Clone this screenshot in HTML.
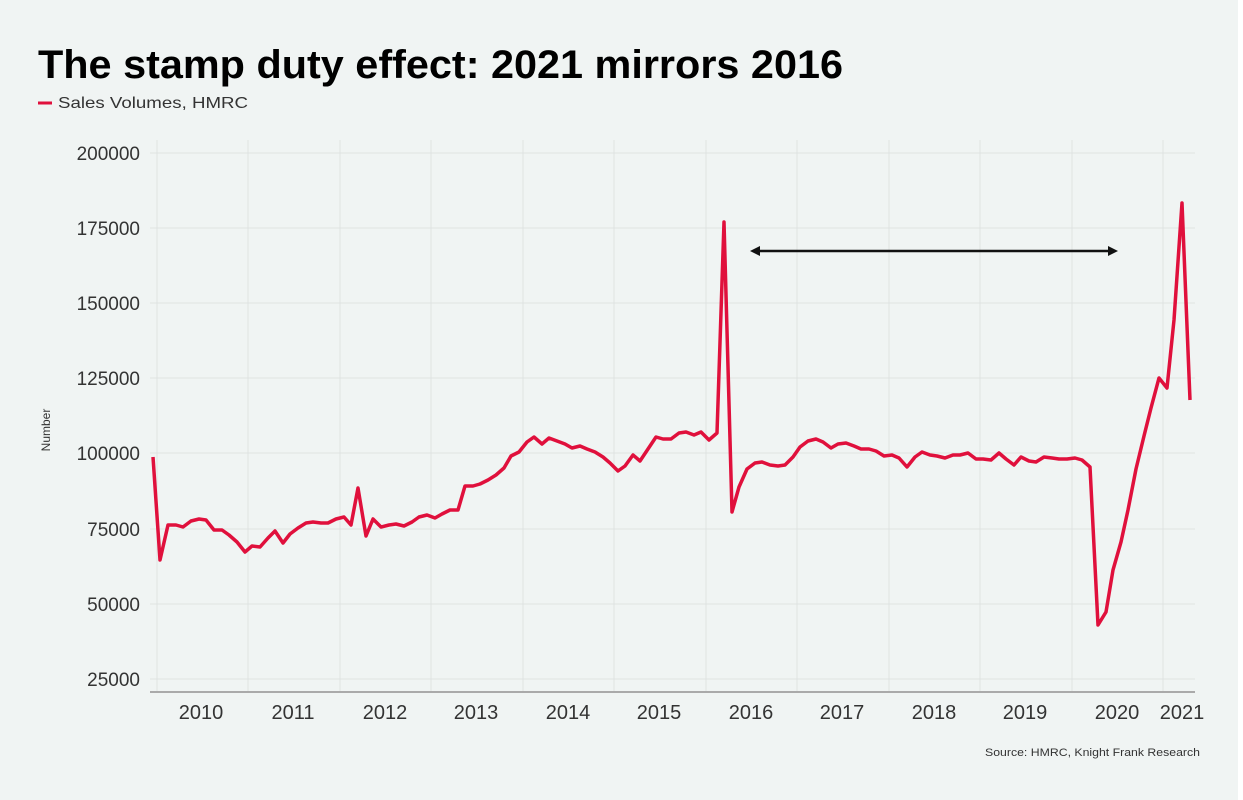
<!DOCTYPE html>
<html><head><meta charset="utf-8"><style>
body{margin:0;background:#fff}
svg{display:block;font-family:"Liberation Sans",sans-serif}
</style></head><body>
<svg width="1243" height="800" viewBox="0 0 1243 800">
<rect x="0" y="0" width="1238" height="800" fill="#f0f4f3"/>
<rect x="1238" y="0" width="5" height="800" fill="#fff"/>
<text x="38" y="78" font-size="40" font-weight="bold" fill="#000" textLength="805" lengthAdjust="spacingAndGlyphs">The stamp duty effect: 2021 mirrors 2016</text>
<line x1="38" y1="103" x2="52" y2="103" stroke="#e0103c" stroke-width="3"/>
<text x="58" y="108" font-size="16" fill="#333" textLength="190" lengthAdjust="spacingAndGlyphs">Sales Volumes, HMRC</text>
<g stroke="#dfe3e2" stroke-width="1">
<line x1="150" y1="153" x2="1195" y2="153"/><line x1="150" y1="228" x2="1195" y2="228"/>
<line x1="150" y1="303" x2="1195" y2="303"/><line x1="150" y1="378" x2="1195" y2="378"/>
<line x1="150" y1="453" x2="1195" y2="453"/><line x1="150" y1="529" x2="1195" y2="529"/>
<line x1="150" y1="604" x2="1195" y2="604"/><line x1="150" y1="679" x2="1195" y2="679"/>
<line x1="157" y1="140" x2="157" y2="692"/><line x1="248" y1="140" x2="248" y2="692"/>
<line x1="340" y1="140" x2="340" y2="692"/><line x1="431" y1="140" x2="431" y2="692"/>
<line x1="523" y1="140" x2="523" y2="692"/><line x1="614" y1="140" x2="614" y2="692"/>
<line x1="706" y1="140" x2="706" y2="692"/><line x1="797" y1="140" x2="797" y2="692"/>
<line x1="889" y1="140" x2="889" y2="692"/><line x1="980" y1="140" x2="980" y2="692"/>
<line x1="1072" y1="140" x2="1072" y2="692"/><line x1="1163" y1="140" x2="1163" y2="692"/>
</g>
<line x1="150" y1="692" x2="1195" y2="692" stroke="#aaa" stroke-width="2"/>
<g font-size="19" fill="#333" text-anchor="end">
<text x="140" y="160">200000</text><text x="140" y="235">175000</text>
<text x="140" y="310">150000</text><text x="140" y="385">125000</text>
<text x="140" y="460">100000</text><text x="140" y="536">75000</text>
<text x="140" y="611">50000</text><text x="140" y="686">25000</text>
</g>
<text transform="translate(50,430) rotate(-90)" font-size="12" fill="#333" text-anchor="middle">Number</text>
<g font-size="20" fill="#333" text-anchor="middle">
<text x="201" y="719">2010</text><text x="293" y="719">2011</text><text x="385" y="719">2012</text>
<text x="476" y="719">2013</text><text x="568" y="719">2014</text><text x="659" y="719">2015</text>
<text x="751" y="719">2016</text><text x="842" y="719">2017</text><text x="934" y="719">2018</text>
<text x="1025" y="719">2019</text><text x="1117" y="719">2020</text><text x="1182" y="719">2021</text>
</g>
<text x="1200" y="756" font-size="11" fill="#333" text-anchor="end" textLength="215" lengthAdjust="spacingAndGlyphs">Source: HMRC, Knight Frank Research</text>
<line x1="756" y1="251" x2="1111" y2="251" stroke="#111" stroke-width="2.5"/>
<polygon points="750,251 760,246 760,256" fill="#111"/>
<polygon points="1118,251 1108,246 1108,256" fill="#111"/>
<polyline fill="none" stroke="#e0103c" stroke-width="3.5" stroke-linejoin="round" points="153,457 160,560 168,525 176,525 183,527 191,521 199,519 206,520 214,530 222,530 229,535 237,542 245,552 252,546 260,547 268,538 275,531 283,543 290,534 298,528 306,523 313,522 321,523 328,523 336,519 344,517 351,525 358,488 366,536 373,519 381,527 389,525 396,524 404,526 412,522 419,517 427,515 435,518 442,514 450,510 458,510 465,486 473,486 480,484 488,480 496,475 504,468 511,456 519,452 527,442 534,437 542,444 549,438 557,441 565,444 572,448 580,446 587,449 595,452 603,457 610,463 618,471 625,466 633,455 640,461 648,449 656,437 663,439 671,439 679,433 686,432 694,435 701,432 709,440 717,433 724,222 732,512 739,487 747,469 755,463 762,462 770,465 778,466 785,465 793,457 800,447 808,441 816,439 823,442 831,448 838,444 846,443 854,446 861,449 869,449 876,451 884,456 892,455 899,458 907,467 915,457 922,452 930,455 937,456 945,458 953,455 960,455 968,453 976,459 983,459 991,460 999,453 1006,459 1014,465 1021,457 1029,461 1036,462 1044,457 1052,458 1059,459 1067,459 1075,458 1082,460 1090,467 1098,625 1106,612 1113,570 1121,542 1128,510 1136,469 1144,436 1151,408 1159,378 1167,388 1174,320 1182,203 1190,400"/>
</svg>
</body></html>
